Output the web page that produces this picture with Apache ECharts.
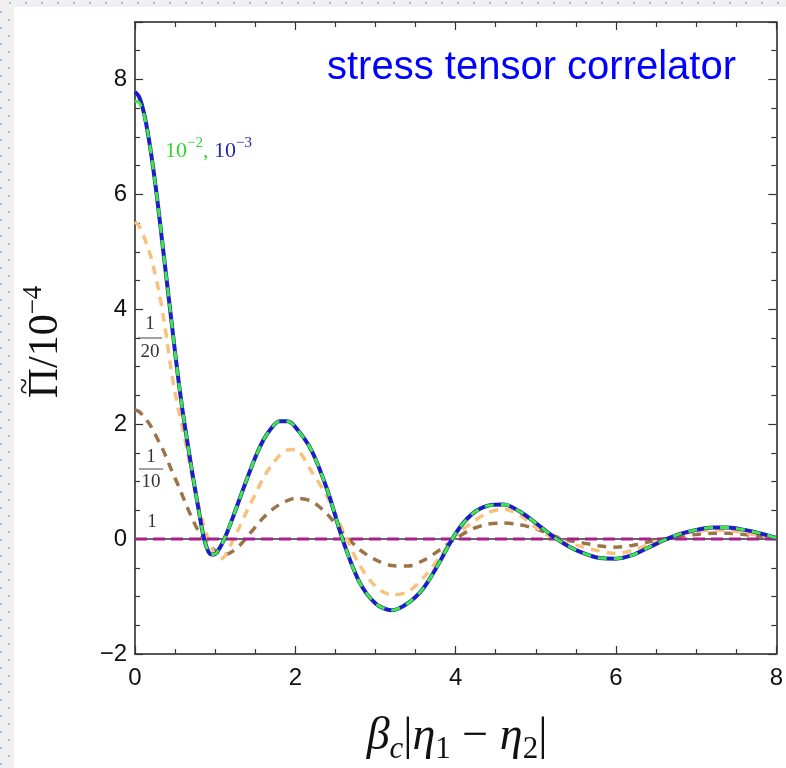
<!DOCTYPE html>
<html><head><meta charset="utf-8">
<script src="https://cdn.jsdelivr.net/npm/echarts@6/dist/echarts.min.js"></script>
<style>html,body{margin:0;padding:0;background:#f0f0f0}#c{width:786px;height:768px}</style>
</head><body><div id="c"></div>
<script>
// ---- data ----
const xs = [0,0.05,0.1,0.15,0.2,0.25,0.3,0.35,0.4,0.45,0.5,0.55,0.6,0.65,0.7,0.75,0.8,0.85,0.9,0.95,1.0,1.05,1.1,1.15,1.2,
  1.3,1.4,1.5,1.6,1.7,1.8,1.9,2.0,
  2.2,2.4,2.6,2.8,3.0,3.2,3.4,3.6,3.8,4.0,4.2,4.4,4.6,4.8,5.0,5.2,5.4,5.6,5.8,6.0,6.2,6.4,6.6,6.8,7.0,7.2,7.4,7.6,7.8,8.0];
const valsE3 = [7.78,7.70,7.48,7.15,6.72,6.22,5.65,5.05,4.45,3.85,3.25,2.68,2.17,1.72,1.28,0.86,0.46,0.08,-0.17,-0.27,-0.26,-0.17,-0.04,0.12,0.30,
  0.68,1.06,1.42,1.72,1.93,2.05,2.05,1.95,
  1.55,0.85,-0.05,-0.75,-1.12,-1.24,-1.12,-0.85,-0.40,0.10,0.43,0.58,0.60,0.48,0.28,0.06,-0.12,-0.25,-0.33,-0.34,-0.28,-0.15,-0.02,0.09,0.16,0.20,0.20,0.16,0.10,0.02];
const valsE2 = [7.62,7.60,7.45,7.15,6.72,6.22,5.65,5.05,4.45,3.85,3.25,2.68,2.17,1.72,1.28,0.86,0.46,0.08,-0.17,-0.27,-0.26,-0.17,-0.04,0.12,0.30,
  0.68,1.06,1.42,1.72,1.93,2.05,2.05,1.95,
  1.55,0.85,-0.05,-0.75,-1.12,-1.24,-1.12,-0.85,-0.40,0.10,0.43,0.58,0.60,0.48,0.28,0.06,-0.12,-0.25,-0.33,-0.34,-0.28,-0.15,-0.02,0.09,0.16,0.20,0.20,0.16,0.10,0.02];
const vals20 = [5.52,5.45,5.30,5.12,4.90,4.62,4.30,3.90,3.45,2.95,2.55,2.20,1.88,1.55,1.18,0.85,0.55,0.28,0.05,-0.13,-0.28,-0.35,-0.33,-0.22,-0.08,
  0.20,0.50,0.78,1.06,1.28,1.45,1.55,1.56,
  1.18,0.73,0.13,-0.45,-0.82,-0.97,-0.92,-0.67,-0.32,0.06,0.28,0.46,0.52,0.42,0.20,0.03,-0.07,-0.14,-0.21,-0.25,-0.20,-0.10,0.00,0.08,0.13,0.16,0.15,0.11,0.06,0.02];
const vals10 = [2.25,2.22,2.15,2.06,1.96,1.83,1.69,1.55,1.39,1.22,1.06,0.90,0.73,0.56,0.40,0.25,0.12,0.02,-0.06,-0.14,-0.20,-0.24,-0.26,-0.26,-0.23,
  -0.12,0.04,0.21,0.37,0.50,0.60,0.67,0.71,
  0.66,0.43,0.10,-0.18,-0.36,-0.46,-0.47,-0.37,-0.19,0.01,0.17,0.26,0.28,0.25,0.18,0.07,-0.02,-0.07,-0.12,-0.14,-0.11,-0.05,0.00,0.05,0.08,0.10,0.10,0.08,0.05,0.02];
const onesX = [0, 8];
const vals1 = [0, 0];
const xTicks = [0, 2, 4, 6, 8];
const yTicks = [-2, 0, 2, 4, 6, 8];

// ---- helpers ----
const pair = (x, y) => x.map((v, i) => [v, y[i]]);
const mctx = document.createElement('canvas').getContext('2d');
function fontOf(p) { return (p.italic ? 'italic ' : '') + p.size + 'px ' + (p.family || '"Liberation Serif"'); }
function piecesToText(pieces, startX, baseY, anchor) {
  const widths = pieces.map(p => { mctx.font = fontOf(p); return p.adv === false ? 0 : mctx.measureText(p.t).width; });
  const total = widths.reduce((a, b) => a + b, 0);
  let x = anchor === 'center' ? startX - total / 2 : startX;
  return pieces.map((p, i) => {
    const el = { type: 'text', silent: true, x: x + (p.dx || 0), y: baseY + (p.dy || 0) - 0.33 * p.size,
      style: { text: p.t, font: fontOf(p), fill: p.color || '#222', align: 'left', verticalAlign: 'middle' } };
    x += widths[i];
    return el;
  });
}
function frac(num, den, cx, baseNum, barY, baseDen, size) {
  return [
    ...piecesToText([{ t: num, size, color: '#333' }], cx, baseNum, 'center'),
    { type: 'line', silent: true, shape: { x1: cx - 12, y1: barY, x2: cx + 12, y2: barY }, style: { stroke: '#444', lineWidth: 1 } },
    ...piecesToText([{ t: den, size, color: '#333' }], cx, baseDen, 'center')
  ];
}

// background decoration
const deco = [{ type: 'rect', silent: true, z: -10, shape: { x: 14, y: 7, width: 786, height: 768 }, style: { fill: '#ffffff' } }];
for (let x = 9; x < 786; x += 16) deco.push({ type: 'rect', silent: true, z: -9, shape: { x: x, y: 2, width: 2, height: 2 }, style: { fill: '#9cc0ea' } });
for (let y = 11; y < 768; y += 16) deco.push({ type: 'rect', silent: true, z: -9, shape: { x: 0, y: y, width: 2, height: 2 }, style: { fill: '#9cc0ea' } });
for (let y = 19; y < 768; y += 16) deco.push({ type: 'rect', silent: true, z: -9, shape: { x: 8, y: y, width: 2, height: 2 }, style: { fill: '#9cc0ea' } });

const labels = [
  { type: 'text', silent: true, x: 327, y: 68, style: { text: 'stress tensor correlator', font: '40px "Liberation Sans"', fill: '#0000ff', align: 'left', verticalAlign: 'middle' } },
  ...piecesToText([
    { t: '10', size: 22, color: '#2fd82f' }, { t: '\u22122', size: 15, color: '#2fd82f', dy: -10 }, { t: ', ', size: 22, color: '#2fd82f' },
    { t: '10', size: 22, color: '#2424b8' }, { t: '\u22123', size: 15, color: '#2424b8', dy: -10 }
  ], 165, 158, 'left'),
  ...frac('1', '20', 150, 330, 338, 358, 19),
  ...frac('1', '10', 151, 463, 469, 488, 19),
  ...piecesToText([{ t: '1', size: 19, color: '#333' }], 152, 528, 'center'),
  ...piecesToText([
    { t: '\u03B2', size: 46, italic: true, color: '#111' }, { t: 'c', size: 31, italic: true, color: '#111', dy: 8 },
    { t: '|', size: 46, color: '#111' }, { t: '\u03B7', size: 46, italic: true, color: '#111' }, { t: '1', size: 31, color: '#111', dy: 8 },
    { t: ' \u2212 ', size: 46, color: '#111' }, { t: '\u03B7', size: 46, italic: true, color: '#111' }, { t: '2', size: 31, color: '#111', dy: 8 },
    { t: '|', size: 46, color: '#111' }
  ], 457, 752, 'center'),
  { type: 'group', x: 60, y: 342, rotation: Math.PI / 2, silent: true, children: piecesToText([
    { t: '~', size: 30, color: '#111', dx: 4, dy: -24, adv: false },
    { t: '\u03A0', size: 42, color: '#111' }, { t: '/', size: 42, color: '#111' }, { t: '10', size: 42, color: '#111' },
    { t: '\u22124', size: 27, color: '#111', dy: -17 }
  ], 0, 0, 'center') }
];

const axisCommon = {
  axisLine: { show: true, onZero: false, lineStyle: { color: '#222', width: 1.5 } },
  axisTick: { show: true, inside: true, length: 8, lineStyle: { color: '#333', width: 1.2 } },
  minorTick: { show: true, splitNumber: 4, length: 5, lineStyle: { color: '#333', width: 1.2 } },
  splitLine: { show: false }, minorSplitLine: { show: false }
};
const xBase = { type: 'value', min: 0, max: 8, interval: 2, ...axisCommon };
const yBase = { type: 'value', min: -2, max: 9, interval: 2, ...axisCommon };

const chart = echarts.init(document.getElementById('c'), null, { renderer: 'canvas' });
chart.setOption({
  backgroundColor: '#f0f0f0',
  animation: false,
  grid: { left: 135, top: 22, right: 2, bottom: 114, containLabel: false },
  xAxis: [
    { ...xBase, position: 'bottom', axisLabel: { show: true, margin: 12, fontSize: 24, fontFamily: 'Liberation Sans', color: '#111',
      formatter: v => xTicks.includes(v) ? String(v) : '' } },
    { ...xBase, position: 'top', axisLabel: { show: false } }
  ],
  yAxis: [
    { ...yBase, position: 'left', axisLabel: { show: true, margin: 8, fontSize: 24, fontFamily: 'Liberation Sans', color: '#111', showMaxLabel: false,
      formatter: v => yTicks.includes(v) ? (v < 0 ? '\u2212' + Math.abs(v) : String(v)) : '' } },
    { ...yBase, position: 'right', axisLabel: { show: false } }
  ],
  graphic: [...deco, ...labels],
  series: [
    { name: 'base', type: 'line', z: 1, data: pair(onesX, vals1), showSymbol: false, silent: true, lineStyle: { color: '#333', width: 1.5 } },
    { name: '1/10', type: 'line', z: 2, data: pair(xs, vals10), smooth: 0.3, showSymbol: false, lineStyle: { color: '#9c7448', width: 3.5, type: [9, 7] } },
    { name: '1/20', type: 'line', z: 3, data: pair(xs, vals20), smooth: 0.3, showSymbol: false, lineStyle: { color: '#f7c27e', width: 3.5, type: [9, 7] } },
    { name: '1', type: 'line', z: 4, data: pair(onesX, vals1), showSymbol: false, lineStyle: { color: '#a8208c', width: 3, type: [12, 6] } },
    { name: '1e-3', type: 'line', z: 5, data: pair(xs, valsE3), smooth: 0.3, showSymbol: false, lineStyle: { color: '#1c1cc8', width: 4 } },
    { name: '1e-2', type: 'line', z: 6, data: pair(xs, valsE2), smooth: 0.3, showSymbol: false, lineStyle: { color: '#3ee83e', width: 3, type: [9, 7] } }
  ]
});
</script></body></html>
